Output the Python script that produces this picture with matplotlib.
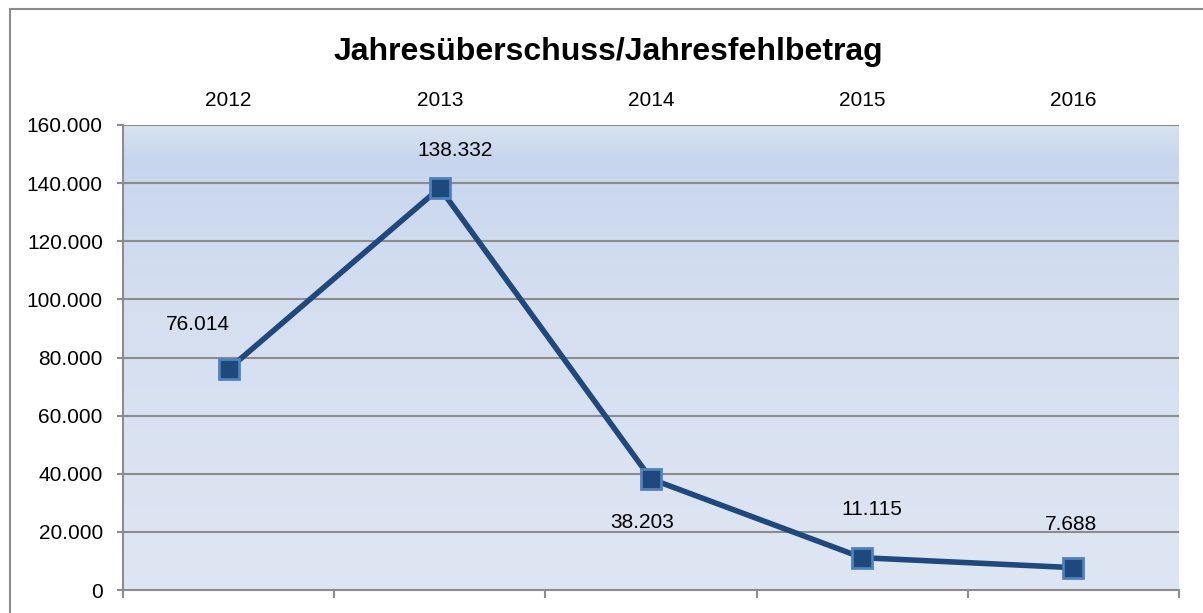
import numpy as np
import matplotlib
matplotlib.use("Agg")
import matplotlib.pyplot as plt
from matplotlib.patches import Rectangle
from matplotlib.colors import LinearSegmentedColormap

years = ["2012", "2013", "2014", "2015", "2016"]
values = [76014, 138332, 38203, 11115, 7688]
labels = ["76.014", "138.332", "38.203", "11.115", "7.688"]
yticks = [0, 20000, 40000, 60000, 80000, 100000, 120000, 140000, 160000]
ytick_labels = ["0", "20.000", "40.000", "60.000", "80.000", "100.000",
                "120.000", "140.000", "160.000"]

W, H = 1203, 613
plt.rcParams["font.family"] = ["Liberation Sans", "DejaVu Sans"]
fig = plt.figure(figsize=(W / 100, H / 100), dpi=100)

# outer frame (runs off the right and bottom edges, as in the source)
fig.patches.append(Rectangle((10 / W, -0.05), 1.2, 1.05 - 9 / H,
                             transform=fig.transFigure, fill=False,
                             edgecolor="#8c8c8c", lw=1.5))

left, right, top, bottom = 123, 1179, 125, 590
ax = fig.add_axes([left / W, 1 - bottom / H, (right - left) / W, (bottom - top) / H])

# gradient background
cmap = LinearSegmentedColormap.from_list(
    "bg", [(0.0, "#dfe6f3"), (0.6, "#d5dff0"), (0.93, "#c8d6ed"), (1.0, "#d8e2f1")])
grad = np.linspace(0, 1, 256).reshape(-1, 1)
ax.imshow(grad, aspect="auto", cmap=cmap, origin="lower",
          extent=[-0.5, 4.5, 0, 160000], zorder=0)

x = np.arange(len(years))
ax.set_xlim(-0.5, 4.5)
ax.set_ylim(0, 160000)

for y in yticks[1:]:
    ax.axhline(y, color="#8c8c8c", lw=1.5, zorder=1)

ax.plot(x, values, color="#1f497d", lw=4, zorder=3, solid_capstyle="round")
ax.plot(x, values, ls="none", marker="s", markersize=14,
        markerfacecolor="#1f497d", markeredgecolor="#4f81bd",
        markeredgewidth=2, zorder=4)

# data labels (offsets in points)
offsets = [(-22, 32), (11, 27), (-6.5, -31), (7, 35), (-1.5, 31)]
for xi, v, lab, (dx, dy) in zip(x, values, labels, offsets):
    ax.annotate(lab, (xi, v), xytext=(dx, dy), textcoords="offset points",
                ha="center", va="center", fontsize=15, color="#000000", zorder=5)

ax.set_yticks(yticks)
ax.set_yticklabels(ytick_labels, fontsize=15)
ax.set_xticks([])

for s in ["top", "right"]:
    ax.spines[s].set_visible(False)
for s in ["left", "bottom"]:
    ax.spines[s].set_color("#8c8c8c")
    ax.spines[s].set_linewidth(1.5)
ax.tick_params(axis="y", length=4.5, width=1.5, color="#8c8c8c", pad=10)

# category boundary ticks at the bottom
for b in np.arange(-0.5, 4.6, 1.0):
    ax.plot([b, b], [0, -0.015], transform=ax.get_xaxis_transform(),
            color="#8c8c8c", lw=1.5, clip_on=False, zorder=2)

# year labels above the plot
for xi, yr in zip(x, years):
    ax.text(xi, 1 + 25 / (bottom - top), yr, transform=ax.get_xaxis_transform(),
            ha="center", va="center", fontsize=15)

fig.text(608 / W, 1 - 60 / H, "Jahresüberschuss/Jahresfehlbetrag",
         ha="center", va="baseline", fontsize=23, fontweight="bold")

fig.savefig("out.png", dpi=100)
